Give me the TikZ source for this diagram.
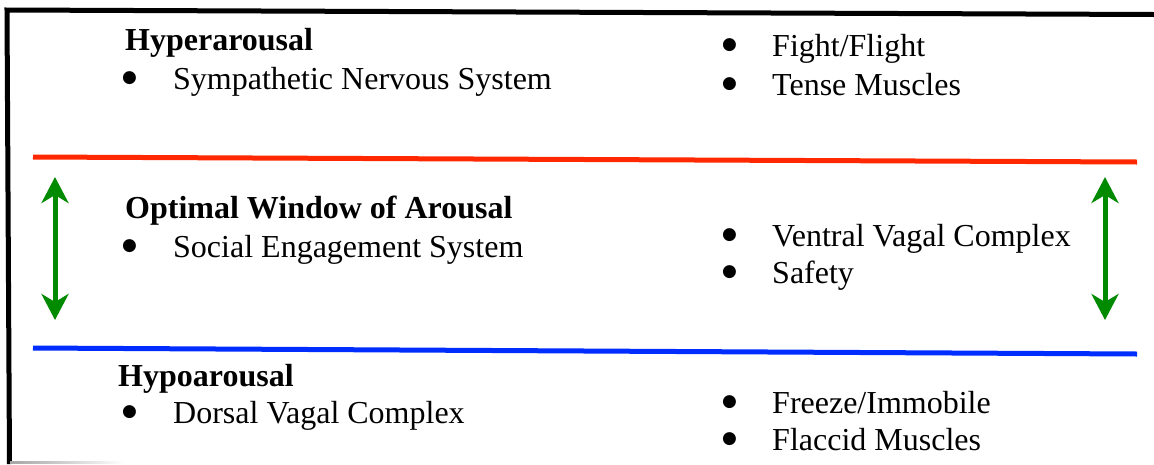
\documentclass[tikz,border=0pt]{standalone}
\usepackage{fontspec}
\setmainfont{Liberation Serif}
\newfontfamily\symfont{DejaVu Sans}
\usetikzlibrary{arrows.meta}
\definecolor{limred}{RGB}{255,40,0}
\definecolor{limblue}{RGB}{0,45,255}
\definecolor{arrgreen}{RGB}{0,138,0}
\newcommand{\bigbul}{{\symfont\fontsize{17}{17}\selectfont ●}}
\tikzset{
  txt/.style={anchor=base west,inner sep=0pt,font=\fontsize{32}{38}\selectfont},
  head/.style={txt,font=\fontsize{32}{38}\selectfont\bfseries},
  bul/.style={anchor=base west,inner sep=0pt,yshift=7pt},
  frame/.style={line width=5pt,black},
  limit/.style={line width=5pt},
  window/.style={line width=5pt,arrgreen,{Stealth[length=26pt,width=27pt,inset=8pt]}-{Stealth[length=26pt,width=27pt,inset=8pt]}}
}
\begin{document}
\begin{tikzpicture}[x=1pt,y=-1pt]
\useasboundingbox (0,0) rectangle (1154,464);
% frame
\coordinate (ftl) at (7,10);
\coordinate (ftr) at (1154,14.5);
\coordinate (fbl) at (9.5,464);
\draw[frame] (ftr) -- (ftl) -- (fbl);
\shade[left color=gray!70,right color=white] (10,461.5) rectangle (125,463.5);
% limits
\coordinate (r1) at (33,157);
\coordinate (r2) at (1137,162);
\coordinate (b1) at (33,348);
\coordinate (b2) at (1137,354);
\draw[limit,limred] (r1) -- (r2);
\draw[limit,limblue] (b1) -- (b2);
% arrows
\coordinate (la1) at (55,177);
\coordinate (la2) at (55,320);
\coordinate (ra1) at (1105,177);
\coordinate (ra2) at (1105,320);
\draw[window] (la1) -- (la2);
\draw[window] (ra1) -- (ra2);
% hyperarousal
\node[head] (hyper) at (125,50) {Hyperarousal};
\node[bul] (b1a) at (122,89) {\bigbul};
\node[txt] (sns) at (173,89) {Sympathetic Nervous System};
\node[bul] (b1b) at (722,56) {\bigbul};
\node[txt] (ff) at (772,56) {Fight/Flight};
\node[bul] (b1c) at (722,95) {\bigbul};
\node[txt] (tm) at (772,95) {Tense Muscles};
% optimal
\node[head] (opt) at (125,218) {Optimal Window of Arousal};
\node[bul] (b2a) at (122,257) {\bigbul};
\node[txt] (ses) at (173,257) {Social Engagement System};
\node[bul] (b2b) at (722,246) {\bigbul};
\node[txt] (vvc) at (772,246) {Ventral Vagal Complex};
\node[bul] (b2c) at (722,283) {\bigbul};
\node[txt] (saf) at (772,283) {Safety};
% hypoarousal
\node[head] (hypo) at (118,386) {Hypoarousal};
\node[bul] (b3a) at (122,423) {\bigbul};
\node[txt] (dvc) at (173,423) {Dorsal Vagal Complex};
\node[bul] (b3b) at (722,413) {\bigbul};
\node[txt] (fi) at (772,413) {Freeze/Immobile};
\node[bul] (b3c) at (722,450) {\bigbul};
\node[txt] (fm) at (772,450) {Flaccid Muscles};
\end{tikzpicture}
\end{document}
